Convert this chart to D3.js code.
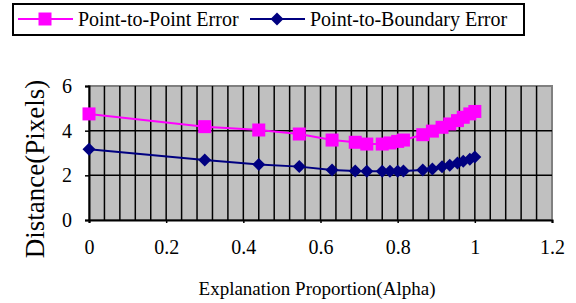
<!DOCTYPE html>
<html>
<head>
<meta charset="utf-8">
<script src="https://cdn.jsdelivr.net/npm/d3@7"></script>
<style>
body { margin: 0; background: #fff; }
text { font-family: "Liberation Serif", "Times New Roman", serif; fill: #000; }
</style>
</head>
<body>
<svg id="chart" width="576" height="303"></svg>
<script>
// data
var alpha = [0, 0.3, 0.44, 0.545, 0.63, 0.69, 0.72, 0.76, 0.78, 0.80, 0.815, 0.865, 0.89, 0.915, 0.935, 0.955, 0.97, 0.987, 1.0];
var pointToPoint = [4.75, 4.18, 4.03, 3.85, 3.58, 3.48, 3.4, 3.4, 3.45, 3.52, 3.58, 3.82, 3.98, 4.15, 4.3, 4.45, 4.6, 4.75, 4.86];
var pointToBoundary = [3.17, 2.69, 2.49, 2.39, 2.24, 2.19, 2.18, 2.18, 2.18, 2.18, 2.19, 2.24, 2.28, 2.38, 2.45, 2.55, 2.63, 2.72, 2.82];
var xTicks = [0, 0.2, 0.4, 0.6, 0.8, 1, 1.2];
var yTicks = [0, 2, 4, 6];
var seriesNames = ['Point-to-Point Error', 'Point-to-Boundary Error'];

var serif = '"Liberation Serif", "Times New Roman", serif';
var svg = d3.select('#chart');
var x = d3.scaleLinear().domain([0, 1.2]).range([89, 552]);
var y = d3.scaleLinear().domain([0, 6]).range([220, 86]);

// plot area
svg.append('rect')
	.attr('x', x(0)).attr('y', y(6))
	.attr('width', x(1.2) - x(0)).attr('height', y(0) - y(6))
	.style('fill', '#c0c0c0').style('stroke', '#808080').style('stroke-width', 2);

// grid: vertical every 0.04, horizontal at 2 and 4
var vgrid = d3.range(1, 30).map(function (i) { return i * 0.04; });
svg.append('g').selectAll('line').data(vgrid).enter().append('line')
	.attr('x1', function (d) { return x(d); }).attr('x2', function (d) { return x(d); })
	.attr('y1', y(6)).attr('y2', y(0))
	.style('stroke', '#000').style('stroke-width', 1.5);
svg.append('g').selectAll('line').data([2, 4]).enter().append('line')
	.attr('x1', x(0)).attr('x2', x(1.2))
	.attr('y1', function (d) { return y(d); }).attr('y2', function (d) { return y(d); })
	.style('stroke', '#000').style('stroke-width', 1.5);

// axes
var xAxis = svg.append('g').attr('transform', 'translate(0,' + y(0) + ')')
	.call(d3.axisBottom(x).tickValues(xTicks).tickSize(3).tickPadding(17).tickFormat(d3.format('')));
var yAxis = svg.append('g').attr('transform', 'translate(' + x(0) + ',0)')
	.call(d3.axisLeft(y).tickValues(yTicks).tickSize(4).tickPadding(13).tickFormat(d3.format('d')));
[xAxis, yAxis].forEach(function (ax) {
	ax.attr('font-family', serif).attr('font-size', 20);
	ax.select('.domain').style('stroke', '#000').style('stroke-width', 2);
	ax.selectAll('.tick line').style('stroke', '#000').style('stroke-width', 1.5);
	ax.selectAll('.tick text').style('font-family', serif).style('font-size', '20px');
});

// series
function drawSeries(vals, color, shape) {
	var pts = alpha.map(function (a, i) { return [a, vals[i]]; });
	svg.append('path').datum(pts)
		.attr('d', d3.line().x(function (d) { return x(d[0]); }).y(function (d) { return y(d[1]); }))
		.style('fill', 'none').style('stroke', color).style('stroke-width', 2);
	svg.append('g').selectAll('path').data(pts).enter().append('path')
		.attr('transform', function (d) { return 'translate(' + x(d[0]) + ',' + y(d[1]) + ')'; })
		.attr('d', shape)
		.style('fill', color);
}
var square = d3.symbol().type(d3.symbolSquare).size(169)();
var diamond = 'M0,-6.5L6.5,0L0,6.5L-6.5,0Z';
drawSeries(pointToPoint, '#ff00ff', square);
drawSeries(pointToBoundary, '#000080', diamond);

// legend
var legend = svg.append('g');
legend.append('rect').attr('x', 13).attr('y', 4).attr('width', 511).attr('height', 31)
	.style('fill', '#fff').style('stroke', '#000').style('stroke-width', 2);
var legendItems = [
	{name: seriesNames[0], color: '#ff00ff', shape: square, x0: 18},
	{name: seriesNames[1], color: '#000080', shape: diamond, x0: 250}
];
legendItems.forEach(function (it) {
	legend.append('line').attr('x1', it.x0).attr('x2', it.x0 + 55).attr('y1', 19).attr('y2', 19)
		.style('stroke', it.color).style('stroke-width', 2);
	legend.append('path').attr('transform', 'translate(' + (it.x0 + 27) + ',19)')
		.attr('d', it.shape).style('fill', it.color);
	legend.append('text').attr('x', it.x0 + 60).attr('y', 26)
		.style('font-family', serif).style('font-size', '20px').text(it.name);
});

// axis titles
svg.append('text').attr('x', 317).attr('y', 295).attr('text-anchor', 'middle')
	.style('font-family', serif).style('font-size', '19px').text('Explanation Proportion(Alpha)');
svg.append('text').attr('transform', 'translate(44,169) rotate(-90)').attr('text-anchor', 'middle')
	.style('font-family', serif).style('font-size', '27px').text('Distance(Pixels)');
</script>
</body>
</html>
